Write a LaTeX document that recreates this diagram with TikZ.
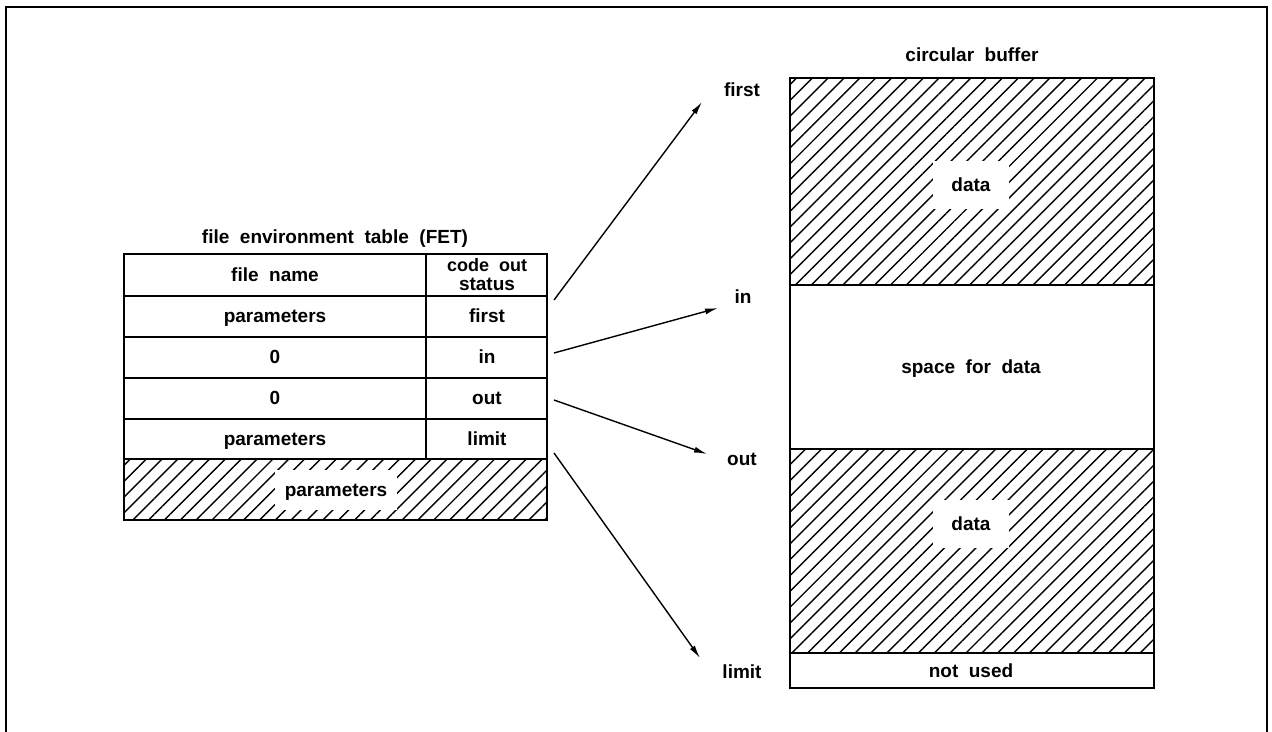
\documentclass[tikz,border=0pt]{standalone}
\usepackage{fontspec}
\setmainfont{Liberation Sans}[WordSpace=2]
\usetikzlibrary{arrows.meta,patterns.meta}
\begin{document}
\begin{tikzpicture}[x=0.5pt,y=-0.5pt,
  every node/.style={font=\fontsize{9.5}{9.5}\selectfont\bfseries,align=center,inner sep=1.5,
    text height=1.6ex,text depth=.3ex},
  frame/.style={line width=1.3pt},
  box/.style={line width=1.4pt},
  hatch/.style={pattern={Lines[angle=45,distance=5.6pt,line width=0.7pt]}},
  blank/.style={fill=white,inner sep=5},
  ptr/.style={-{Latex[length=6.5pt,width=3pt]},line width=0.7pt}]
\useasboundingbox (0,0) rectangle (1272,732);
\draw[frame] (6,732) -- (6,7) -- (1267,7) -- (1267,732);
% file environment table
\fill[hatch] (124,459) rectangle (547,520);
\draw[box] (124,254) rectangle (547,520);
\foreach \y in {296,337,378,419,459} \draw[box] (124,\y) -- (547,\y);
\draw[box] (426,254) -- (426,459);
\node (fet) at (335,237) {file environment table (FET)};
\node (fname) at (275,275) {file name};
\node[text height=,text depth=] (code) at (487,275) {\fontsize{9}{7.5}\selectfont code out\\ status};
\node (par1) at (275,316) {parameters};
\node (zero1) at (275,357) {0};
\node (zero2) at (275,398) {0};
\node (par2) at (275,439) {parameters};
\node (pfirst) at (487,316) {first};
\node (pin) at (487,357) {in};
\node (pout) at (487,398) {out};
\node (plimit) at (487,439) {limit};
\node[blank] (par3) at (336,490) {parameters};
% circular buffer
\fill[hatch] (790,78) rectangle (1154,285);
\fill[hatch] (790,449) rectangle (1154,653);
\draw[box] (790,78) rectangle (1154,688);
\foreach \y in {285,449,653} \draw[box] (790,\y) -- (1154,\y);
\node (cb) at (972,55) {circular buffer};
\node[blank,inner xsep=9,inner ysep=7] (data1) at (971,185) {data};
\node (space) at (971,367) {space for data};
\node[blank,inner xsep=9,inner ysep=7] (data2) at (971,524) {data};
\node (unused) at (971,671) {not used};
% pointers
\node (bfirst) at (742,90) {first};
\node (bin) at (743,297) {in};
\node (bout) at (742,459) {out};
\node (blimit) at (742,672) {limit};
\coordinate (s1) at (554,300); \coordinate (e1) at (702,102);
\coordinate (s2) at (554,353); \coordinate (e2) at (718,308);
\coordinate (s3) at (554,400); \coordinate (e3) at (707,454);
\coordinate (s4) at (554,453); \coordinate (e4) at (700,658);
\foreach \i in {1,...,4} \draw[ptr] (s\i) -- (e\i);
\end{tikzpicture}
\end{document}
